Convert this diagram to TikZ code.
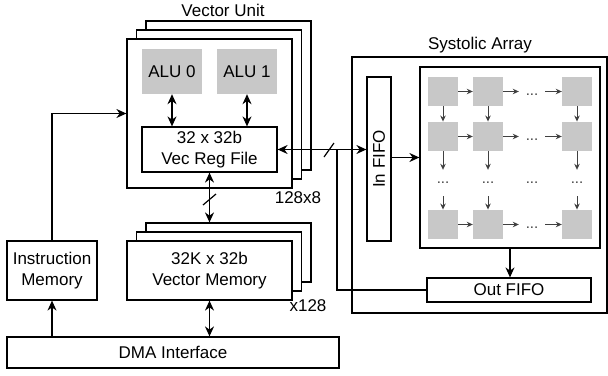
\documentclass[tikz,border=0pt]{standalone}
\usepackage{fontspec}
\setmainfont{Liberation Sans}
\usetikzlibrary{arrows.meta,calc}
\definecolor{pegray}{HTML}{C8C8C8}
\definecolor{arrgray}{HTML}{404040}
\tikzset{
  box/.style={draw=black,line width=1.2pt,fill=white,inner sep=0pt,align=center,font=\fontsize{17}{21}\selectfont},
  pe/.style={fill=pegray,draw=none,minimum width=30pt,minimum height=29.5pt,inner sep=0pt},
  lbl/.style={inner sep=0pt,font=\fontsize{17}{21}\selectfont},
  dots/.style={inner sep=0pt,text=arrgray,font=\fontsize{15}{18}\selectfont,minimum width=26pt,minimum height=26pt},
  conn/.style={line width=1.2pt,draw=black},
  tip/.style={-{Stealth[length=10pt,width=9pt]}},
  dtip/.style={{Stealth[length=10pt,width=9pt]}-{Stealth[length=10pt,width=9pt]}},
  small/.style={line width=1pt,draw=arrgray,-{Stealth[length=6pt,width=5.5pt]}},
}
\begin{document}
\begin{tikzpicture}[x=1pt,y=-1pt]
\useasboundingbox (0,0) rectangle (608,375);
% Vector unit stack
\node[box,minimum width=165pt,minimum height=149pt] (vu3) at (228.5,95.5) {};
\node[box,minimum width=165pt,minimum height=149pt] (vu2) at (219,104.5) {};
\node[box,minimum width=165pt,minimum height=149pt] (vu1) at (209.5,113.5) {};
\node[lbl] (vulbl) at (223,10) {Vector Unit};
\node[pe,minimum width=60pt,minimum height=45pt,font=\fontsize{17}{21}\selectfont] (alu0) at (172,71.5) {ALU 0};
\node[pe,minimum width=60pt,minimum height=45pt,font=\fontsize{17}{21}\selectfont] (alu1) at (247,71.5) {ALU 1};
\node[box,minimum width=135pt,minimum height=45pt] (rf) at (209.5,149.5) {32 x 32b\\Vec Reg File};
% Vector memory stack
\node[box,minimum width=165pt,minimum height=59pt] (vm3) at (228.5,252.5) {};
\node[box,minimum width=165pt,minimum height=59pt] (vm2) at (219,261.5) {};
\node[box,minimum width=165pt,minimum height=59pt] (vm1) at (209.5,270.5) {32K x 32b\\Vector Memory};
\node[lbl] (x128) at (308,306) {x128};
\node[lbl] (w128) at (298,198) {128x8};
% Instruction memory, DMA
\node[box,minimum width=90pt,minimum height=59pt] (im) at (52,270.5) {Instruction\\Memory};
\node[box,minimum width=332pt,minimum height=31pt] (dma) at (173,352.5) {DMA Interface};
% Systolic array
\node[box,minimum width=255pt,minimum height=256pt] (sa) at (479.5,185) {};
\node[lbl] (salbl) at (480,45) {Systolic Array};
\node[box,minimum width=24pt,minimum height=164pt] (infifo) at (379,159) {};
\node[lbl,rotate=90] (infifotxt) at (infifo.center) {In FIFO};
\node[box,minimum width=180pt,minimum height=181pt] (grid) at (510,157.5) {};
\node[box,minimum width=164pt,minimum height=24pt] (outfifo) at (509,290) {Out FIFO};
% PEs
\node[pe] (p11) at (443,91.5) {};
\node[pe] (p12) at (488,91.5) {};
\node[pe] (p13) at (577,91.5) {};
\node[pe] (p21) at (443,136.5) {};
\node[pe] (p22) at (488,136.5) {};
\node[pe] (p23) at (577,136.5) {};
\node[pe] (p31) at (443,224.5) {};
\node[pe] (p32) at (488,224.5) {};
\node[pe] (p33) at (577,224.5) {};
\node[dots] (d1) at (532,95) {...};
\node[dots] (d2) at (532,140) {...};
\node[dots] (d3) at (532,228) {...};
\node[dots] (m1) at (443,183) {...};
\node[dots] (m2) at (488,183) {...};
\node[dots] (m3) at (532,183) {...};
\node[dots] (m4) at (577,183) {...};
% grid arrows
\foreach \r in {1,2,3}{
  \draw[small] (p\r1.east) -- (p\r2.west);
  \draw[small] (p\r2.east) -- (p\r2.east -| d\r.west);
  \draw[small] (p\r3.west -| d\r.east) -- (p\r3.west);
}
\foreach \c/\m in {1/m1,2/m2,3/m4}{
  \draw[small] (p1\c.south) -- (p2\c.north);
  \draw[small] (p2\c.south) -- (p2\c.south |- \m.north);
  \draw[small] (\m.south) -- (p3\c.north);
}
% connectors
\draw[conn,dtip] (alu0.south) -- (alu0.south |- rf.north);
\draw[conn,dtip] (alu1.south) -- (alu1.south |- rf.north);
\draw[conn,dtip] (rf.south) -- (rf.south |- vm3.north);
\draw[conn] (203,205) -- (216,194);
\draw[conn,dtip] (vm1.south) -- (vm1.south |- dma.north);
\draw[conn,tip] (dma.north -| im.south) -- (im.south);
\draw[conn,tip] (im.north) |- (vu1.west);
\draw[conn,dtip] (rf.east) -- (rf.east -| infifo.west);
\draw[conn] (324,157) -- (334,143);
\coordinate (fb) at (337,149.5);
\draw[conn] (outfifo.west) -| (fb);
\draw[conn,tip] (grid.west -| infifo.east) -- (grid.west);
\draw[conn,tip] (grid.south) -- (grid.south |- outfifo.north);
\end{tikzpicture}
\end{document}
